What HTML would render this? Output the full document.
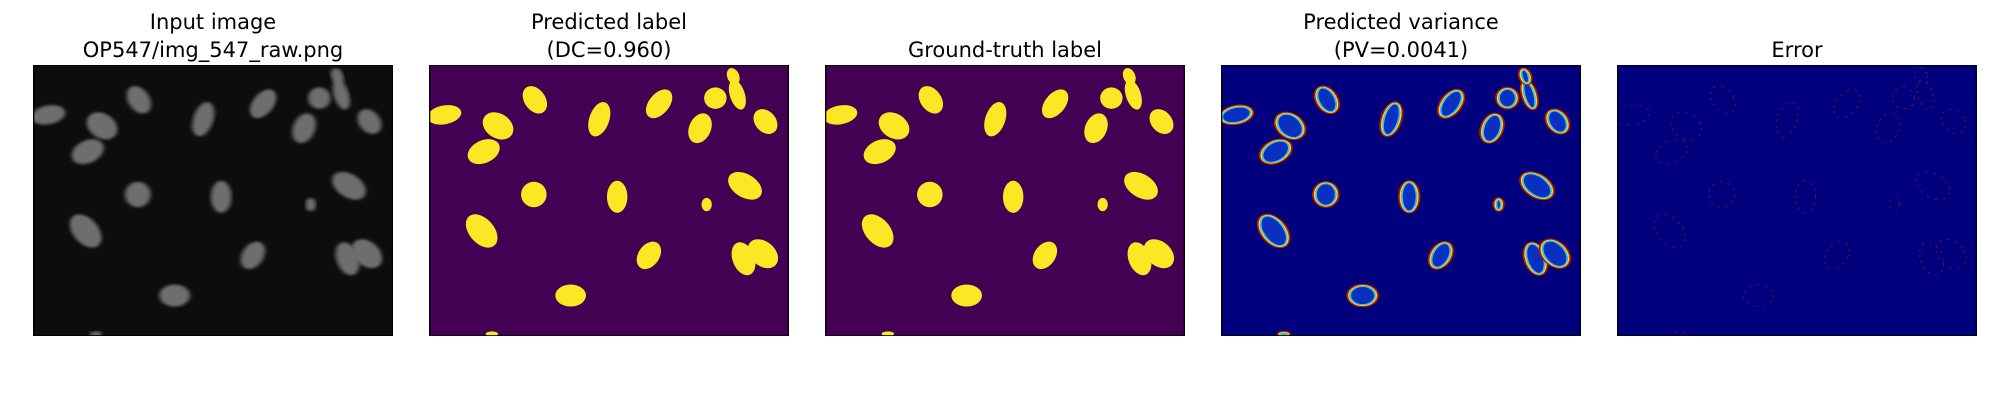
<!DOCTYPE html>
<html><head><meta charset="utf-8"><style>
body{margin:0;background:#fff;width:2000px;height:400px;overflow:hidden;position:relative;font-family:"DejaVu Sans","Liberation Sans",sans-serif}
.t{position:absolute;width:396px;text-align:center;font-size:21px;line-height:28px;color:#000}
svg.p{position:absolute;top:65px;width:360px;height:271px}
</style></head><body>
<div id="root"></div>
<script>
// nucleus ellipses: cx, cy, rx, ry, rotation (image coordinates 704x810)
const nucX=[30,207,135,107,333,450,560,603,595,530,658,205,368,618,543,103,430,615,653,277,123];
const nucY=[149,104,182,259,162,116,99,89,34,189,169,387,394,361,417,496,569,579,564,689,804];
const nucRX=[27,22,28,28,20,22,22,15,12,22,22,25,20,28,10,27,22,22,27,30,12];
const nucRY=[35,42,42,40,52,45,32,45,25,45,38,38,48,45,20,52,42,50,45,33,8];
const nucRot=[60,-15,-20,30,10,20,0,-10,-10,10,-15,0,0,-30,0,-20,15,-10,-20,0,0];
const titles=[["Input image","OP547/img_547_raw.png"],["Predicted label","(DC=0.960)"],["Ground-truth label",""],["Predicted variance","(PV=0.0041)"],["Error",""]];
const names=["input-image","predicted-label","ground-truth-label","predicted-variance","error-map"];
const lefts=[33,429,825,1221,1617];
const root=document.getElementById('root');
const NS="http://www.w3.org/2000/svg";
titles.forEach((tt,i)=>{
  const d=document.createElement('div');d.className='t';
  
  
  d.style.left=(lefts[i]-18)+'px';
  d.style.top=(tt[1]?8:36)+'px';
  d.innerHTML=tt[0]+(tt[1]?'<br>'+tt[1]:'');
  root.appendChild(d);
  const s=document.createElementNS(NS,'svg');s.setAttribute('class','p');
  
  
  s.setAttribute('viewBox','0 0 704 810');s.setAttribute('preserveAspectRatio','none');
  s.style.left=lefts[i]+'px';
  const bg=['#0d0d0d','#440154','#440154','#00007f','#00007f'][i];
  let h=`<defs><filter id="b${i}"><feGaussianBlur stdDeviation="4"/></filter></defs><rect width="704" height="810" fill="${bg}"/>`;
  nucX.forEach((x,k)=>{
    const y=nucY[k],rx=nucRX[k],ry=nucRY[k],r=nucRot[k];
    const tf=`transform="rotate(${r} ${x} ${y})"`;
    if(i===0) h+=`<ellipse cx="${x}" cy="${y}" rx="${rx}" ry="${ry}" ${tf} fill="#6e6e6e" filter="url(#b0)"/>`;
    else if(i<3) h+=`<ellipse cx="${x}" cy="${y}" rx="${rx}" ry="${ry}" ${tf} fill="#fde725"/>`;
    else if(i===3) h+=`<ellipse cx="${x}" cy="${y}" rx="${rx}" ry="${ry}" ${tf} fill="#0a30c0" stroke="#b01800" stroke-width="4"/><ellipse cx="${x}" cy="${y}" rx="${rx-3}" ry="${ry-3}" ${tf} fill="none" stroke="#e8e020" stroke-width="3"/><ellipse cx="${x}" cy="${y}" rx="${rx-6}" ry="${ry-6}" ${tf} fill="none" stroke="#30c0ff" stroke-width="3"/>`;
    else h+=`<ellipse cx="${x}" cy="${y}" rx="${rx}" ry="${ry}" ${tf} fill="none" stroke="#80102a" stroke-width="2" stroke-dasharray="6 12"/>`;
  });
  h+=`<rect x="1" y="1" width="702" height="808" fill="none" stroke="#000" stroke-width="3"/>`;
  s.innerHTML=h;
  root.appendChild(s);
});
</script>
</body></html>
